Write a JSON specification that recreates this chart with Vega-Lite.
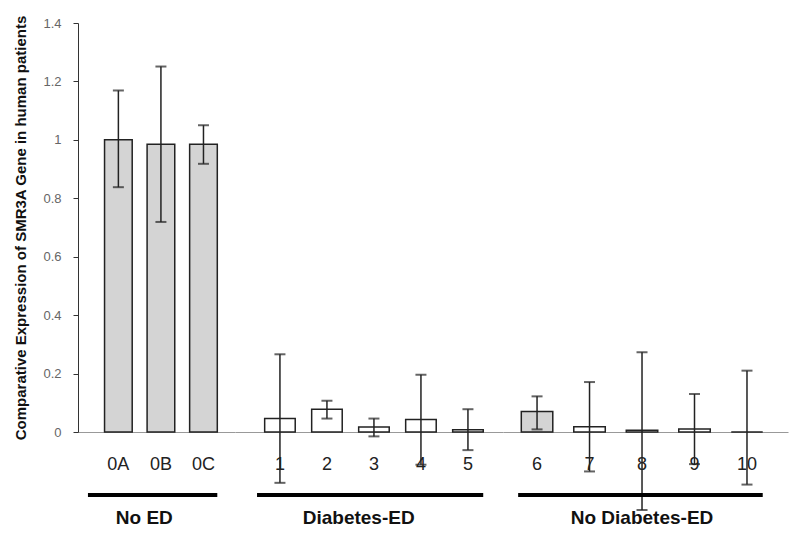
{
  "$schema": "https://vega.github.io/schema/vega-lite/v6.json",
  "padding": {"left": 13, "top": 14, "right": 5, "bottom": 5},
  "spacing": 0,
  "bounds": "flush",
  "config": {
    "view": {"stroke": null},
    "font": "Liberation Sans",
    "axis": {"grid": false}
  },
  "datasets": {
    "samples": [
      {"group": "No ED", "sample": "0A", "value": 1.0, "lower": 0.838, "upper": 1.169, "kind": "reference"},
      {"group": "No ED", "sample": "0B", "value": 0.985, "lower": 0.719, "upper": 1.251, "kind": "reference"},
      {"group": "No ED", "sample": "0C", "value": 0.985, "lower": 0.918, "upper": 1.05, "kind": "reference"},
      {"group": "Diabetes-ED", "sample": "1", "value": 0.046, "lower": -0.174, "upper": 0.266, "kind": "patient"},
      {"group": "Diabetes-ED", "sample": "2", "value": 0.078, "lower": 0.046, "upper": 0.107, "kind": "patient"},
      {"group": "Diabetes-ED", "sample": "3", "value": 0.017, "lower": -0.015, "upper": 0.046, "kind": "patient"},
      {"group": "Diabetes-ED", "sample": "4", "value": 0.043, "lower": -0.112, "upper": 0.196, "kind": "patient"},
      {"group": "Diabetes-ED", "sample": "5", "value": 0.008, "lower": -0.062, "upper": 0.078, "kind": "patient"},
      {"group": "No Diabetes-ED", "sample": "6", "value": 0.07, "lower": 0.009, "upper": 0.122, "kind": "reference"},
      {"group": "No Diabetes-ED", "sample": "7", "value": 0.018, "lower": -0.135, "upper": 0.171, "kind": "patient"},
      {"group": "No Diabetes-ED", "sample": "8", "value": 0.006, "lower": -0.267, "upper": 0.273, "kind": "patient"},
      {"group": "No Diabetes-ED", "sample": "9", "value": 0.01, "lower": -0.11, "upper": 0.13, "kind": "patient"},
      {"group": "No Diabetes-ED", "sample": "10", "value": 0.0, "lower": -0.18, "upper": 0.21, "kind": "patient"}
    ],
    "groups": [
      {"group": "No ED", "first": "0A", "last": "0C", "anchor": "0B"},
      {"group": "Diabetes-ED", "first": "1", "last": "5", "anchor": "3"},
      {"group": "No Diabetes-ED", "first": "6", "last": "10", "anchor": "8"}
    ]
  },
  "hconcat": [
    {
      "width": 157,
      "height": 409,
      "encoding": {
        "x": {"type": "ordinal",
          "scale": {"domain": ["0A", "0B", "0C"], "paddingInner": 0.35, "paddingOuter": 0.52, "align": 0.6},
          "axis": {"title": null, "labelAngle": 0, "ticks": false, "labelFontSize": 18, "labelColor": "#222", "labelPadding": 23, "domainColor": "#999", "domainWidth": 1}}
      },
      "layer": [
        {"data": {"name": "samples"}, "transform": [{"filter": "datum.group === 'No ED'"}],
          "mark": {"type": "bar", "stroke": "#222", "strokeWidth": 1.5},
          "encoding": {
            "x": {"field": "sample"},
            "y": {"field": "value", "type": "quantitative",
              "scale": {"domain": [0, 1.4], "nice": false},
              "axis": {"values": [0, 0.2, 0.4, 0.6, 0.8, 1, 1.2, 1.4], "format": "~g", "labelColor": "#666", "labelFontSize": 13, "tickSize": 5, "tickColor": "#333", "domainColor": "#333", "labelPadding": 12,
                "title": "Comparative Expression of SMR3A Gene in human patients", "titleFontWeight": "bold", "titleFontSize": 15, "titleColor": "#111", "titlePadding": 14}},
            "fill": {"field": "kind", "type": "nominal", "scale": {"domain": ["reference", "patient"], "range": ["#d4d4d4", "#ffffff"]}, "legend": null}
          }},
        {"data": {"name": "samples"}, "transform": [{"filter": "datum.group === 'No ED'"}],
          "mark": {"type": "rule", "stroke": "#222", "strokeWidth": 1.5},
          "encoding": {"x": {"field": "sample"}, "y": {"field": "lower", "type": "quantitative"}, "y2": {"field": "upper"}}},
        {"data": {"name": "samples"}, "transform": [{"filter": "datum.group === 'No ED'"}],
          "mark": {"type": "tick", "color": "#222", "thickness": 2, "size": 11, "orient": "horizontal"},
          "encoding": {"x": {"field": "sample"}, "y": {"field": "lower", "type": "quantitative"}}},
        {"data": {"name": "samples"}, "transform": [{"filter": "datum.group === 'No ED'"}],
          "mark": {"type": "tick", "color": "#222", "thickness": 2, "size": 11, "orient": "horizontal"},
          "encoding": {"x": {"field": "sample"}, "y": {"field": "upper", "type": "quantitative"}}},
        {"data": {"name": "groups"}, "transform": [{"filter": "datum.group === 'No ED'"}],
          "mark": {"type": "rule", "stroke": "#000", "strokeWidth": 4},
          "encoding": {"x": {"field": "first", "bandPosition": -0.6}, "x2": {"field": "last", "bandPosition": 1}, "y": {"datum": -0.216, "type": "quantitative"}}},
        {"data": {"name": "groups"}, "transform": [{"filter": "datum.group === 'No ED'"}],
          "mark": {"type": "text", "fontSize": 19, "fontWeight": "bold", "color": "#111"},
          "encoding": {"x": {"field": "anchor", "bandPosition": -0.1}, "y": {"datum": -0.295, "type": "quantitative"}, "text": {"field": "group"}}}
      ]
    },
    {
      "width": 268,
      "height": 409,
      "encoding": {
        "x": {"type": "ordinal",
          "scale": {"domain": ["1", "2", "3", "4", "5"], "paddingInner": 0.35, "paddingOuter": 0.526, "align": 0.6},
          "axis": {"title": null, "labelAngle": 0, "ticks": false, "labelFontSize": 18, "labelColor": "#222", "labelPadding": 23, "domainColor": "#999", "domainWidth": 1}}
      },
      "layer": [
        {"data": {"name": "samples"}, "transform": [{"filter": "datum.group === 'Diabetes-ED'"}],
          "mark": {"type": "bar", "stroke": "#222", "strokeWidth": 1.5},
          "encoding": {
            "x": {"field": "sample"},
            "y": {"field": "value", "type": "quantitative", "scale": {"domain": [0, 1.4], "nice": false}, "axis": null},
            "fill": {"field": "kind", "type": "nominal", "scale": {"domain": ["reference", "patient"], "range": ["#d4d4d4", "#ffffff"]}, "legend": null}
          }},
        {"data": {"name": "samples"}, "transform": [{"filter": "datum.group === 'Diabetes-ED'"}],
          "mark": {"type": "rule", "stroke": "#222", "strokeWidth": 1.5},
          "encoding": {"x": {"field": "sample"}, "y": {"field": "lower", "type": "quantitative"}, "y2": {"field": "upper"}}},
        {"data": {"name": "samples"}, "transform": [{"filter": "datum.group === 'Diabetes-ED'"}],
          "mark": {"type": "tick", "color": "#222", "thickness": 2, "size": 11, "orient": "horizontal"},
          "encoding": {"x": {"field": "sample"}, "y": {"field": "lower", "type": "quantitative"}}},
        {"data": {"name": "samples"}, "transform": [{"filter": "datum.group === 'Diabetes-ED'"}],
          "mark": {"type": "tick", "color": "#222", "thickness": 2, "size": 11, "orient": "horizontal"},
          "encoding": {"x": {"field": "sample"}, "y": {"field": "upper", "type": "quantitative"}}},
        {"data": {"name": "groups"}, "transform": [{"filter": "datum.group === 'Diabetes-ED'"}],
          "mark": {"type": "rule", "stroke": "#000", "strokeWidth": 4},
          "encoding": {"x": {"field": "first", "bandPosition": -0.25}, "x2": {"field": "last", "bandPosition": 1}, "y": {"datum": -0.216, "type": "quantitative"}}},
        {"data": {"name": "groups"}, "transform": [{"filter": "datum.group === 'Diabetes-ED'"}],
          "mark": {"type": "text", "fontSize": 19, "fontWeight": "bold", "color": "#111"},
          "encoding": {"x": {"field": "anchor", "bandPosition": 0}, "y": {"datum": -0.295, "type": "quantitative"}, "text": {"field": "group"}}}
      ]
    },
    {
      "width": 285,
      "height": 409,
      "encoding": {
        "x": {"type": "ordinal",
          "scale": {"domain": ["6", "7", "8", "9", "10"], "paddingInner": 0.4, "paddingOuter": 0.415, "align": 0.42},
          "axis": {"title": null, "labelAngle": 0, "ticks": false, "labelFontSize": 18, "labelColor": "#222", "labelPadding": 23, "domainColor": "#999", "domainWidth": 1}}
      },
      "layer": [
        {"data": {"name": "samples"}, "transform": [{"filter": "datum.group === 'No Diabetes-ED'"}],
          "mark": {"type": "bar", "stroke": "#222", "strokeWidth": 1.5},
          "encoding": {
            "x": {"field": "sample"},
            "y": {"field": "value", "type": "quantitative", "scale": {"domain": [0, 1.4], "nice": false}, "axis": null},
            "fill": {"field": "kind", "type": "nominal", "scale": {"domain": ["reference", "patient"], "range": ["#d4d4d4", "#ffffff"]}, "legend": null}
          }},
        {"data": {"name": "samples"}, "transform": [{"filter": "datum.group === 'No Diabetes-ED'"}],
          "mark": {"type": "rule", "stroke": "#222", "strokeWidth": 1.5},
          "encoding": {"x": {"field": "sample"}, "y": {"field": "lower", "type": "quantitative"}, "y2": {"field": "upper"}}},
        {"data": {"name": "samples"}, "transform": [{"filter": "datum.group === 'No Diabetes-ED'"}],
          "mark": {"type": "tick", "color": "#222", "thickness": 2, "size": 11, "orient": "horizontal"},
          "encoding": {"x": {"field": "sample"}, "y": {"field": "lower", "type": "quantitative"}}},
        {"data": {"name": "samples"}, "transform": [{"filter": "datum.group === 'No Diabetes-ED'"}],
          "mark": {"type": "tick", "color": "#222", "thickness": 2, "size": 11, "orient": "horizontal"},
          "encoding": {"x": {"field": "sample"}, "y": {"field": "upper", "type": "quantitative"}}},
        {"data": {"name": "groups"}, "transform": [{"filter": "datum.group === 'No Diabetes-ED'"}],
          "mark": {"type": "rule", "stroke": "#000", "strokeWidth": 4},
          "encoding": {"x": {"field": "first", "bandPosition": -0.1}, "x2": {"field": "last", "bandPosition": 1}, "y": {"datum": -0.216, "type": "quantitative"}}},
        {"data": {"name": "groups"}, "transform": [{"filter": "datum.group === 'No Diabetes-ED'"}],
          "mark": {"type": "text", "fontSize": 19, "fontWeight": "bold", "color": "#111"},
          "encoding": {"x": {"field": "anchor", "bandPosition": 0.5}, "y": {"datum": -0.295, "type": "quantitative"}, "text": {"field": "group"}}}
      ]
    }
  ]
}
